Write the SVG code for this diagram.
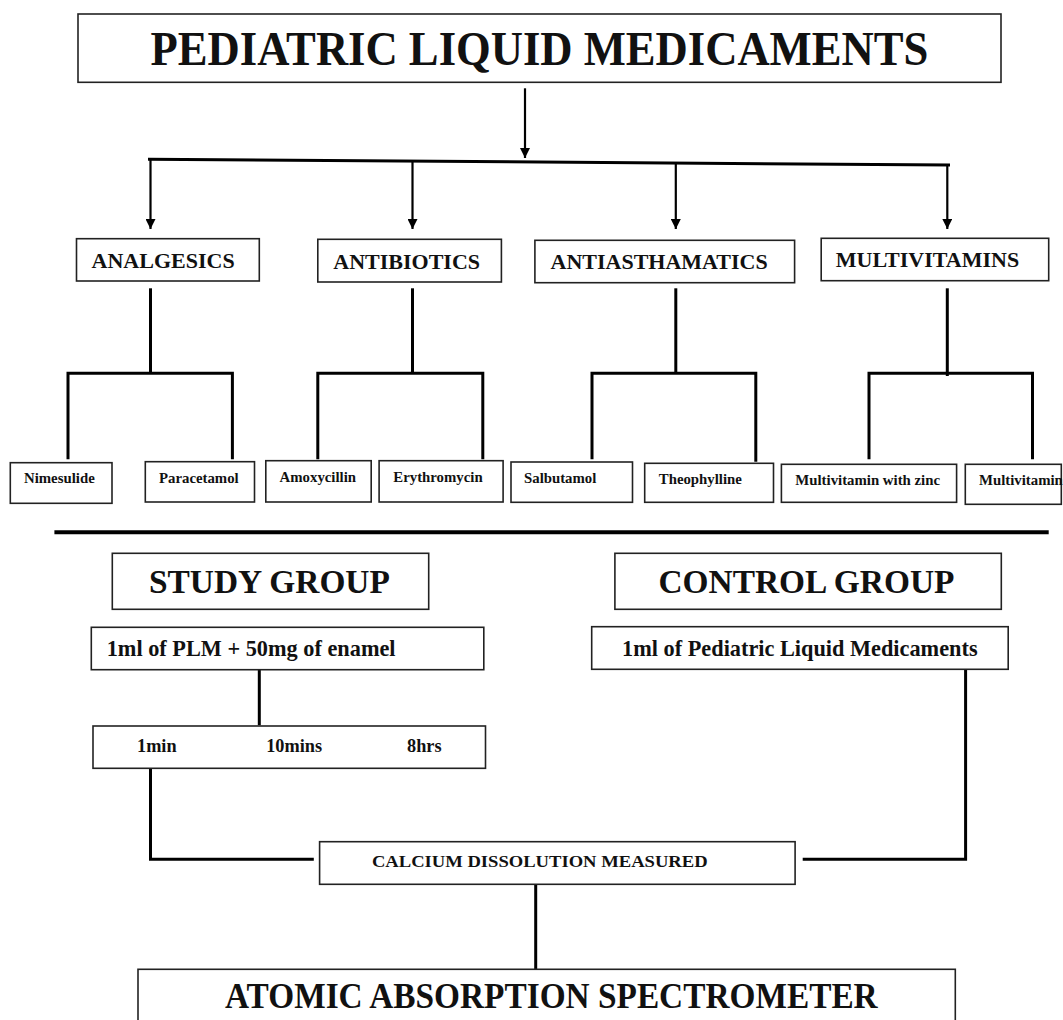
<svg xmlns="http://www.w3.org/2000/svg" width="1063" height="1020" viewBox="0 0 1063 1020">
<style>
.box{fill:#fff;stroke:#222;stroke-width:1.6}
.t{font-family:"Liberation Serif","Times New Roman",serif;font-weight:bold;fill:#111}
.c{stroke:#000;fill:none;stroke-width:3}
.a{stroke:#000;fill:none;stroke-width:2.2}
</style>
<defs>
<marker id="arr" markerUnits="userSpaceOnUse" markerWidth="10" markerHeight="10" refX="10" refY="5" orient="auto" viewBox="0 0 10 10">
<path d="M0,0 L10,5 L0,10 z" fill="#000"/>
</marker>
</defs>
<rect width="1063" height="1020" fill="#fff"/>
<g id="connectors">
<line class="a" x1="525" y1="88.3" x2="525" y2="158" marker-end="url(#arr)"/>
<line class="c" x1="148" y1="159.3" x2="950" y2="165"/>
<line class="a" x1="150.5" y1="159.5" x2="150.5" y2="229" marker-end="url(#arr)"/>
<line class="a" x1="412.5" y1="161.3" x2="412.5" y2="229" marker-end="url(#arr)"/>
<line class="a" x1="675.8" y1="163.2" x2="675.8" y2="229" marker-end="url(#arr)"/>
<line class="a" x1="947.3" y1="165" x2="947.3" y2="229" marker-end="url(#arr)"/>
<line class="c" x1="150.5" y1="288.3" x2="150.5" y2="373.3"/>
<path class="c" d="M68,459.3 V373.3 H232.4 V459.3"/>
<line class="c" x1="412.5" y1="288.3" x2="412.5" y2="373.3"/>
<path class="c" d="M317.8,459.3 V373.3 H482.8 V459.3"/>
<line class="c" x1="675.8" y1="288.3" x2="675.8" y2="373.3"/>
<path class="c" d="M592,459.3 V373.3 H755.8 V461.7"/>
<line class="c" x1="947.3" y1="288.3" x2="947.3" y2="376"/>
<path class="c" d="M869,459.3 V373.3 H1032.5 V459.3"/>
<line x1="54.4" y1="532.3" x2="1048.7" y2="532.3" stroke="#000" stroke-width="4"/>
<line class="c" x1="259.3" y1="668" x2="259.3" y2="725.3"/>
<path class="c" d="M150.5,768 V859.3 H313.8"/>
<path class="c" d="M965.6,668.3 V859.3 H802.7"/>
<line class="c" x1="535.7" y1="884.3" x2="535.7" y2="969.3"/>
</g>
<g id="title"><rect class="box" x="78" y="14" width="923" height="68.3"/><text class="t" x="150.6" y="64.5" font-size="48" textLength="777.7" lengthAdjust="spacingAndGlyphs">PEDIATRIC LIQUID MEDICAMENTS</text></g>
<g id="analgesics"><rect class="box" x="76.5" y="238.7" width="182.8" height="42.3"/><text class="t" x="91.6" y="268.3" font-size="22">ANALGESICS</text></g>
<g id="antibiotics"><rect class="box" x="317.8" y="239.3" width="183.6" height="42.7"/><text class="t" x="333.3" y="269" font-size="22">ANTIBIOTICS</text></g>
<g id="antiasthamatics"><rect class="box" x="534.9" y="240.3" width="259.7" height="42.4"/><text class="t" x="550.5" y="269" font-size="22">ANTIASTHAMATICS</text></g>
<g id="multivitamins"><rect class="box" x="821.2" y="238.3" width="227.5" height="42.4"/><text class="t" x="835.8" y="266.7" font-size="22">MULTIVITAMINS</text></g>
<g id="nimesulide"><rect class="box" x="10.3" y="462.7" width="101.7" height="40.6"/><text class="t" x="24" y="483.3" font-size="14.8">Nimesulide</text></g>
<g id="paracetamol"><rect class="box" x="145.3" y="461.7" width="109.2" height="40.3"/><text class="t" x="159" y="482.7" font-size="14.8">Paracetamol</text></g>
<g id="amoxycillin"><rect class="box" x="265.8" y="460.7" width="105.4" height="41.3"/><text class="t" x="279.6" y="481.7" font-size="14.8">Amoxycillin</text></g>
<g id="erythromycin"><rect class="box" x="379.1" y="460.7" width="124" height="41.3"/><text class="t" x="393.3" y="481.7" font-size="14.8">Erythromycin</text></g>
<g id="salbutamol"><rect class="box" x="511" y="462" width="121.5" height="40.3"/><text class="t" x="524" y="482.7" font-size="14.8">Salbutamol</text></g>
<g id="theophylline"><rect class="box" x="644.7" y="463.3" width="128.8" height="39"/><text class="t" x="658.8" y="484" font-size="14.8">Theophylline</text></g>
<g id="multivitamin-zinc"><rect class="box" x="781.4" y="464.3" width="175.2" height="38"/><text class="t" x="795.3" y="485" font-size="14.8">Multivitamin with zinc</text></g>
<g id="multivitamin"><rect class="box" x="965.3" y="464.3" width="96" height="40"/><text class="t" x="979" y="485" font-size="14.8">Multivitamin</text></g>
<g id="study-group"><rect class="box" x="112.3" y="553.3" width="316.4" height="56"/><text class="t" x="149" y="593.3" font-size="33.4">STUDY GROUP</text></g>
<g id="control-group"><rect class="box" x="614.9" y="553.3" width="386.4" height="56"/><text class="t" x="658.5" y="593.3" font-size="33.4">CONTROL GROUP</text></g>
<g id="study-sample"><rect class="box" x="91.3" y="627.3" width="392.5" height="42.4"/><text class="t" x="106.7" y="655.7" font-size="22.3">1ml of PLM + 50mg of enamel</text></g>
<g id="control-sample"><rect class="box" x="591.7" y="626.7" width="416.5" height="42.6"/><text class="t" x="622.1" y="655.7" font-size="22.3">1ml of Pediatric Liquid Medicaments</text></g>
<g id="times"><rect class="box" x="93" y="726" width="392.5" height="42.3"/><text class="t" x="137" y="752.3" font-size="18.3">1min</text><text class="t" x="266.2" y="752.3" font-size="18.3">10mins</text><text class="t" x="407" y="752.3" font-size="18.3">8hrs</text></g>
<g id="calcium"><rect class="box" x="319.6" y="841.7" width="475.5" height="42.6"/><text class="t" x="371.9" y="867.3" font-size="17.5" textLength="335.7" lengthAdjust="spacingAndGlyphs">CALCIUM DISSOLUTION MEASURED</text></g>
<g id="aas"><rect class="box" x="138" y="969.3" width="817.3" height="60"/><text class="t" x="225" y="1008.3" font-size="35" textLength="652.7" lengthAdjust="spacingAndGlyphs">ATOMIC ABSORPTION SPECTROMETER</text></g>
</svg>
